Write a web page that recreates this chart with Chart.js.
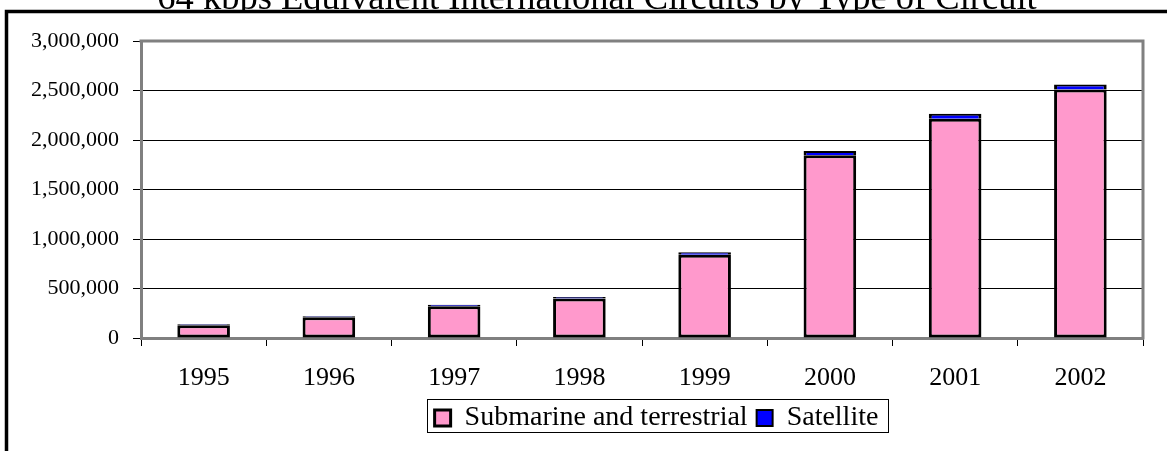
<!DOCTYPE html>
<html>
<head>
<meta charset="utf-8">
<script src="https://cdn.jsdelivr.net/npm/chart.js@4.4.1/dist/chart.umd.min.js"></script>
<style>
  html, body { margin: 0; padding: 0; background: #fff; }
</style>
</head>
<body>
<canvas id="myChart" width="1167" height="451"></canvas>
<script>
// datos
const years = ['1995', '1996', '1997', '1998', '1999', '2000', '2001', '2002'];
const submarine = [130000, 210000, 320000, 400000, 840000, 1845000, 2215000, 2510000];
const satellite = [10000, 10000, 15000, 15000, 25000, 45000, 50000, 50000];
const yTicks = [0, 500000, 1000000, 1500000, 2000000, 2500000, 3000000];
const titleText = '64 kbps Equivalent International Circuits by Type of Circuit';

const serif = '"Liberation Serif", "Times New Roman", serif';

// marco negro, titulo cortado, borde gris del area y borde de la leyenda
const framePlugin = {
    id: 'frame',
    afterLayout(chart) {
        // la leyenda del original esta corrida a la derecha
        chart.legend.left += 170;
    },
    beforeDraw(chart) {
        const ctx = chart.ctx;
        ctx.save();
        ctx.fillStyle = '#fff';
        ctx.fillRect(0, 0, chart.width, chart.height);
        ctx.fillStyle = '#000';
        ctx.font = '36.5px ' + serif;
        ctx.textAlign = 'center';
        ctx.textBaseline = 'alphabetic';
        ctx.fillText(titleText, 597, 9);
        ctx.fillStyle = '#fff';
        ctx.fillRect(6, 11, chart.width, chart.height);
        ctx.strokeStyle = '#000';
        ctx.lineWidth = 3.5;
        ctx.beginPath();
        ctx.moveTo(6.5, chart.height);
        ctx.lineTo(6.5, 11.5);
        ctx.lineTo(chart.width, 11.5);
        ctx.stroke();
        ctx.restore();
    },
    afterDraw(chart) {
        const ctx = chart.ctx;
        const a = chart.chartArea;
        ctx.save();
        ctx.strokeStyle = '#808080';
        ctx.lineWidth = 3;
        ctx.beginPath();
        ctx.moveTo(a.left - 1.5, a.top);
        ctx.lineTo(a.right, a.top);
        ctx.lineTo(a.right, a.bottom + 1.5);
        ctx.stroke();

        const boxes = chart.legend.legendHitBoxes;
        if (boxes && boxes.length) {
            const left = Math.min(...boxes.map(b => b.left)) - 8;
            const right = Math.max(...boxes.map(b => b.left + b.width)) + 9;
            const top = Math.min(...boxes.map(b => b.top)) - 5;
            const bottom = Math.max(...boxes.map(b => b.top + b.height));
            ctx.strokeStyle = '#000';
            ctx.lineWidth = 1;
            ctx.strokeRect(Math.round(left) + 0.5, Math.round(top) + 0.5, Math.round(right - left), Math.round(bottom - top));
        }
        ctx.restore();
    }
};

let ctx = document.getElementById('myChart').getContext('2d');

let myChart = new Chart(ctx, {
    type: 'bar',
    data: {
        labels: years,
        datasets: [
            {
                label: 'Submarine and terrestrial',
                data: submarine,
                backgroundColor: '#FF99CC',
                borderColor: '#000',
                borderWidth: { left: 3, right: 3, top: 3, bottom: 3 },
                borderSkipped: false
            },
            {
                label: 'Satellite',
                data: satellite,
                backgroundColor: '#0000FF',
                borderColor: '#000',
                borderWidth: { left: 3, right: 3, top: 2, bottom: 0 },
                borderSkipped: false
            }
        ]
    },
    options: {
        responsive: false,
        animation: false,
        layout: { padding: { left: 0, top: 41, right: 24, bottom: 9 } },
        datasets: { bar: { barPercentage: 0.42, categoryPercentage: 1.0 } },
        plugins: {
            title: { display: false },
            tooltip: { enabled: false },
            legend: {
                position: 'bottom',
                labels: {
                    color: '#000',
                    font: { family: serif, size: 28 },
                    boxWidth: 16,
                    boxHeight: 16,
                    padding: 9
                }
            }
        },
        scales: {
            x: {
                stacked: true,
                offset: true,
                grid: { offset: true, drawOnChartArea: false, drawTicks: true, tickLength: 8, color: '#000' },
                border: { color: '#808080', width: 3 },
                ticks: { color: '#000', font: { family: serif, size: 26 }, padding: 17 },
                afterFit: s => { s.height = 57; }
            },
            y: {
                stacked: true,
                min: 0,
                max: 3000000,
                afterBuildTicks: s => { s.ticks = yTicks.map(v => ({ value: v })); },
                grid: { color: '#000', lineWidth: 1, tickLength: 8 },
                border: { color: '#808080', width: 3 },
                ticks: {
                    color: '#000',
                    font: { family: serif, size: 22 },
                    padding: 14,
                    callback: v => v.toLocaleString('en-US')
                },
                afterFit: s => { s.width = 141; }
            }
        }
    },
    plugins: [framePlugin]
});
</script>
</body>
</html>
